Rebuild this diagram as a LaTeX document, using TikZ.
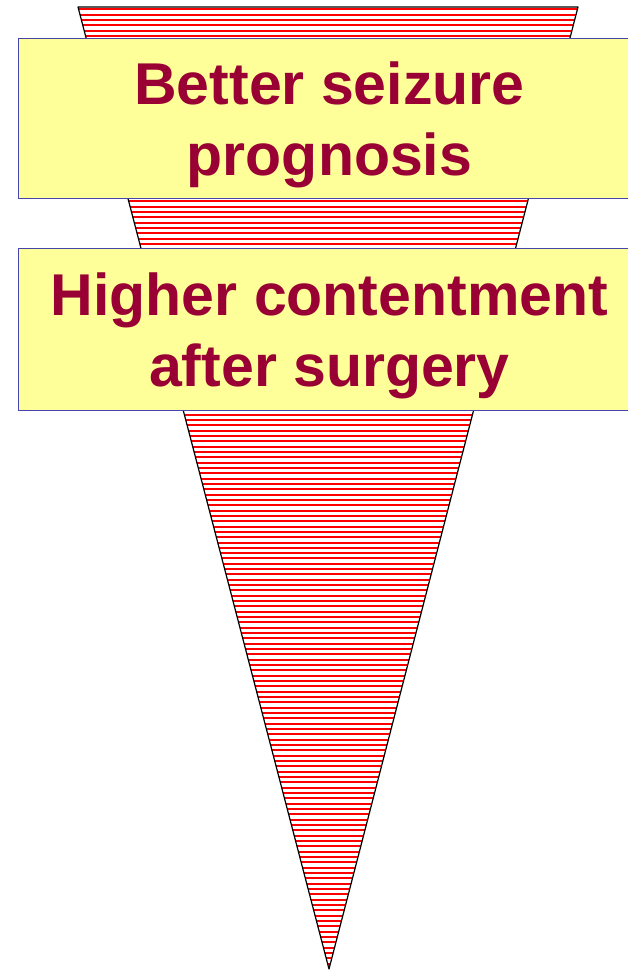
\documentclass[tikz,border=0pt]{standalone}
\usepackage{fontspec}
\setmainfont{Liberation Sans}
\definecolor{boxyellow}{RGB}{255,255,153}
\definecolor{wine}{RGB}{153,0,51}
\definecolor{hatchred}{RGB}{255,0,0}
\definecolor{boxedge}{RGB}{70,70,170}
\tikzset{
  label box/.style={draw=boxedge, line width=1pt, fill=boxyellow, minimum width=622pt,
    inner sep=0pt, anchor=north west},
  label text/.style={inner sep=0pt, align=center, text=wine, yshift=-6.5pt,
    font=\fontsize{59}{71.5}\selectfont\bfseries},
}

\begin{document}
\begin{tikzpicture}[x=1pt, y=-1pt]
  \useasboundingbox (0,0) rectangle (628,971);
  % funnel with red hatching
  \begin{scope}
    \clip (78,7) -- (578,7) -- (329,969) -- cycle;
    \foreach \y in {9.5,14.83,...,970}
      \draw[hatchred, line width=2pt] (70,\y) -- (590,\y);
  \end{scope}
  \draw[line width=1.2pt, line join=round] (78,7) -- (578,7) -- (329,969) -- cycle;
  % boxes
  \node[label box, minimum height=160pt] (seizure) at (18,38) {};
  \node[label text] (seizure text) at (seizure.center) {Better seizure\\prognosis};
  \node[label box, minimum height=162pt] (content) at (18,248) {};
  \node[label text] (content text) at (content.center) {Higher contentment\\after surgery};
\end{tikzpicture}
\end{document}
